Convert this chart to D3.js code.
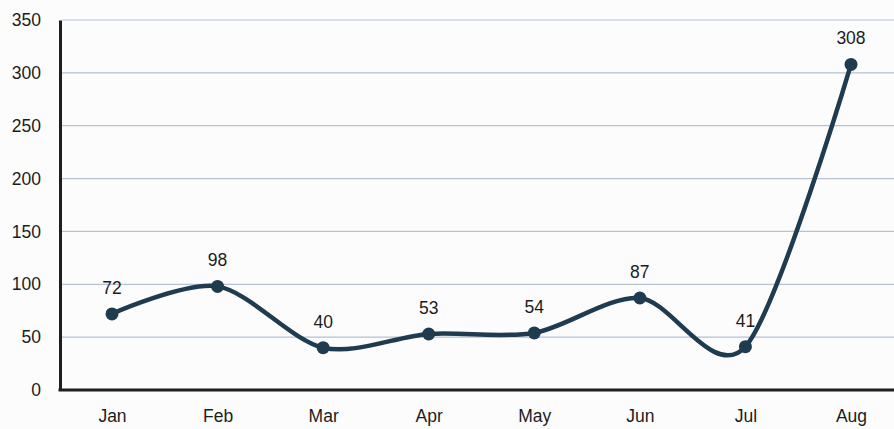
<!DOCTYPE html>
<html>
<head>
<meta charset="utf-8">
<script src="https://cdn.jsdelivr.net/npm/d3@7"></script>
<style>
  html, body { margin: 0; padding: 0; background: #fcfcfd; }
  svg { display: block; }
  text { font-family: "Liberation Sans", Arial, sans-serif; }
</style>
</head>
<body>
<svg id="chart" width="894" height="429"></svg>
<script>
// Monthly values
const months = ["Jan", "Feb", "Mar", "Apr", "May", "Jun", "Jul", "Aug"];
const values = [72, 98, 40, 53, 54, 87, 41, 308];
const yTicks = [0, 50, 100, 150, 200, 250, 300, 350];

const W = 894, H = 429;
const margin = { left: 60, right: 0, top: 20, bottom: 39 };
const fontSize = 17.5;
const svg = d3.select("#chart");

const x = d3.scalePoint()
  .domain(months)
  .range([112, 851]);

const y = d3.scaleLinear()
  .domain([0, 350])
  .range([H - margin.bottom, margin.top]);

// horizontal gridlines
svg.append("g")
  .selectAll("line")
  .data(yTicks.filter(d => d > 0))
  .join("line")
  .attr("x1", margin.left + 2)
  .attr("x2", W)
  .attr("y1", d => y(d))
  .attr("y2", d => y(d))
  .attr("stroke", "#b6c1d4")
  .attr("stroke-width", 1.2);

// y axis labels
const yAxis = d3.axisLeft(y).tickValues(yTicks).tickSize(0).tickPadding(19);
const gy = svg.append("g")
  .attr("transform", `translate(${margin.left},0)`)
  .call(yAxis);
gy.select(".domain").attr("stroke", "#1b1f1f").attr("stroke-width", 3);
gy.selectAll("text")
  .attr("font-size", fontSize)
  .attr("fill", "#1c1c1c")
  .attr("font-family", "'Liberation Sans', Arial, sans-serif");

// x axis
const xAxis = d3.axisBottom(x).tickSize(0).tickPadding(20);
const gx = svg.append("g")
  .attr("transform", `translate(0,${y(0)})`)
  .call(xAxis);
gx.select(".domain").remove();
gx.append("line")
  .attr("x1", margin.left - 1.5)
  .attr("x2", W)
  .attr("y1", 0)
  .attr("y2", 0)
  .attr("stroke", "#1b1f1f")
  .attr("stroke-width", 3);
gx.selectAll("text")
  .attr("font-size", fontSize)
  .attr("fill", "#1c1c1c")
  .attr("font-family", "'Liberation Sans', Arial, sans-serif");

// smooth line
const data = months.map((m, i) => ({ m, v: values[i] }));
const line = d3.line()
  .x(d => x(d.m))
  .y(d => y(d.v))
  .curve(d3.curveCardinal.tension(0.1));

const stroke = "#1f3b4f";
svg.append("path")
  .datum(data)
  .attr("d", line)
  .attr("fill", "none")
  .attr("stroke", stroke)
  .attr("stroke-width", 4.5)
  .attr("stroke-linejoin", "round")
  .attr("stroke-linecap", "round");

// points
svg.append("g")
  .selectAll("circle")
  .data(data)
  .join("circle")
  .attr("cx", d => x(d.m))
  .attr("cy", d => y(d.v))
  .attr("r", 6.5)
  .attr("fill", stroke);

// value labels
svg.append("g")
  .selectAll("text")
  .data(data)
  .join("text")
  .attr("x", d => x(d.m))
  .attr("y", d => y(d.v) - 20)
  .attr("text-anchor", "middle")
  .attr("font-size", fontSize)
  .attr("fill", "#1c1c1c")
  .text(d => d.v);
</script>
</body>
</html>
